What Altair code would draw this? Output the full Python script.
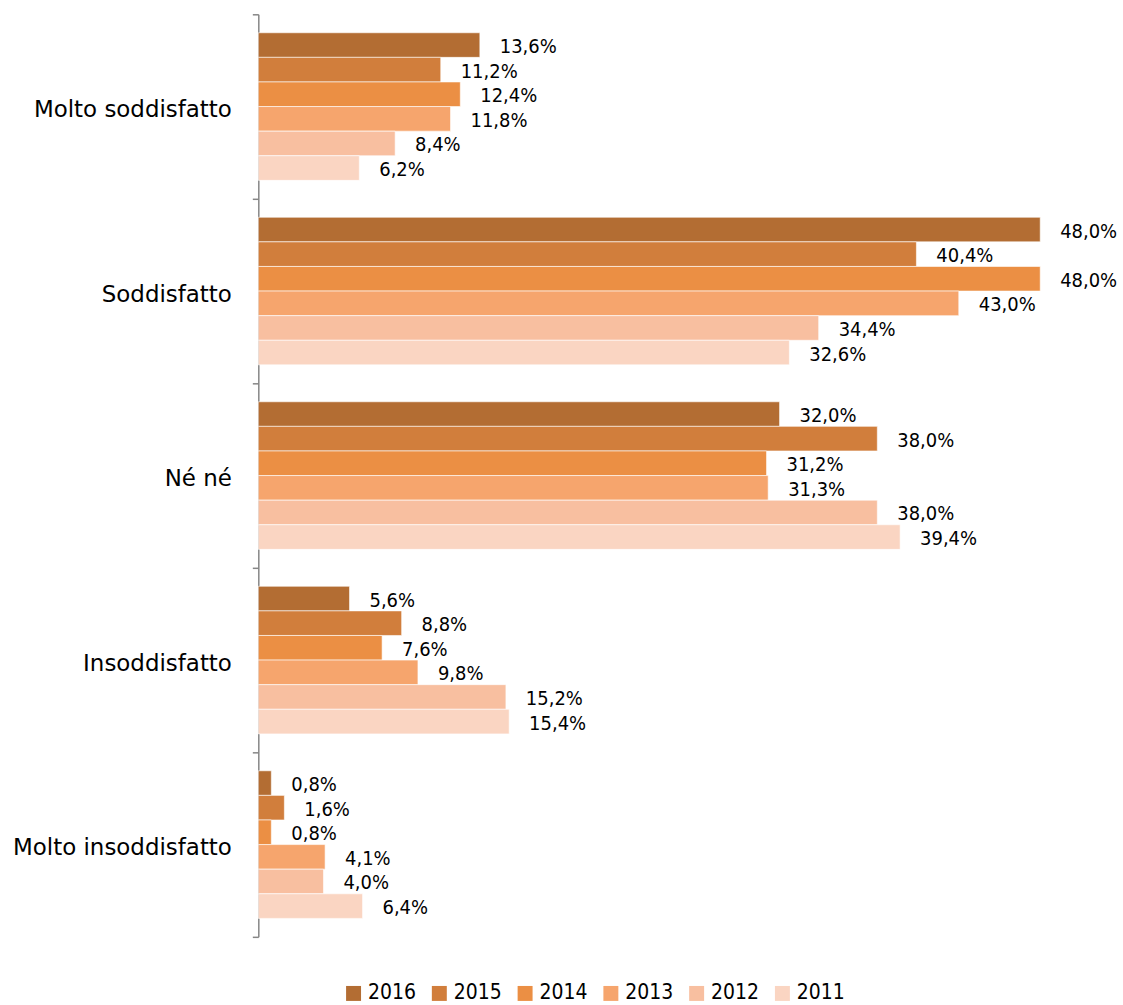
import altair as alt
import pandas as pd

categories = ["Molto soddisfatto", "Soddisfatto", "Né né", "Insoddisfatto", "Molto insoddisfatto"]
years = ["2016", "2015", "2014", "2013", "2012", "2011"]
v2016 = [13.6, 48.0, 32.0, 5.6, 0.8]
v2015 = [11.2, 40.4, 38.0, 8.8, 1.6]
v2014 = [12.4, 48.0, 31.2, 7.6, 0.8]
v2013 = [11.8, 43.0, 31.3, 9.8, 4.1]
v2012 = [8.4, 34.4, 38.0, 15.2, 4.0]
v2011 = [6.2, 32.6, 39.4, 15.4, 6.4]
colors = ["#B36D33", "#D17E3C", "#EB8F44", "#F6A56D", "#F8BFA0", "#FAD5C2"]

series = [v2016, v2015, v2014, v2013, v2012, v2011]
rows = []
for y, vals in zip(years, series):
    for c, v in zip(categories, vals):
        rows.append({"categoria": c, "anno": y, "valore": v,
                     "etichetta": f"{v:.1f}".replace(".", ",") + "%"})
df = pd.DataFrame(rows)

FONT = "DejaVu Sans Condensed, DejaVu Sans"

base = alt.Chart(df).encode(
    y=alt.Y("categoria:N", sort=categories,
            scale=alt.Scale(paddingInner=0, paddingOuter=0),
            axis=alt.Axis(title=None, tickBand="extent", domainColor="#868686",
                          tickColor="#868686", domainWidth=1.5, tickWidth=1.5,
                          tickSize=6, labelPadding=21, labelFontSize=23,
                          labelFont="DejaVu Sans", labelColor="black",
                          labelOffset=3,
                          minExtent=254, maxExtent=254, labelLimit=300)),
    yOffset=alt.YOffset("anno:N", sort=years,
                        scale=alt.Scale(paddingInner=0, paddingOuter=0.75)),
)

bars = base.mark_bar(stroke="white", strokeWidth=1, strokeOpacity=0.6).encode(
    x=alt.X("valore:Q", scale=alt.Scale(domain=[0, 48], nice=False, zero=True), axis=None),
    color=alt.Color("anno:N", sort=years,
                    scale=alt.Scale(domain=years, range=colors),
                    legend=alt.Legend(title=None, orient="none", direction="horizontal",
                                      columns=6, legendX=85, legendY=971,
                                      symbolType="square", symbolSize=225,
                                      symbolStrokeWidth=0, labelFontSize=21,
                                      labelFont=FONT, labelColor="black",
                                      labelOffset=4, columnPadding=12, padding=0)),
)

labels = base.mark_text(align="left", baseline="middle", dx=20, dy=2,
                        fontSize=20, font=FONT, color="black").encode(
    x=alt.X("valore:Q", axis=None),
    text="etichetta:N",
)

chart = alt.layer(bars, labels).properties(
    width=784, height=925,
    padding={"left": 5, "top": 2, "right": 5, "bottom": 0},
).configure_view(stroke=None)

chart.save("out.html", embed_options={"renderer": "svg", "actions": False})
